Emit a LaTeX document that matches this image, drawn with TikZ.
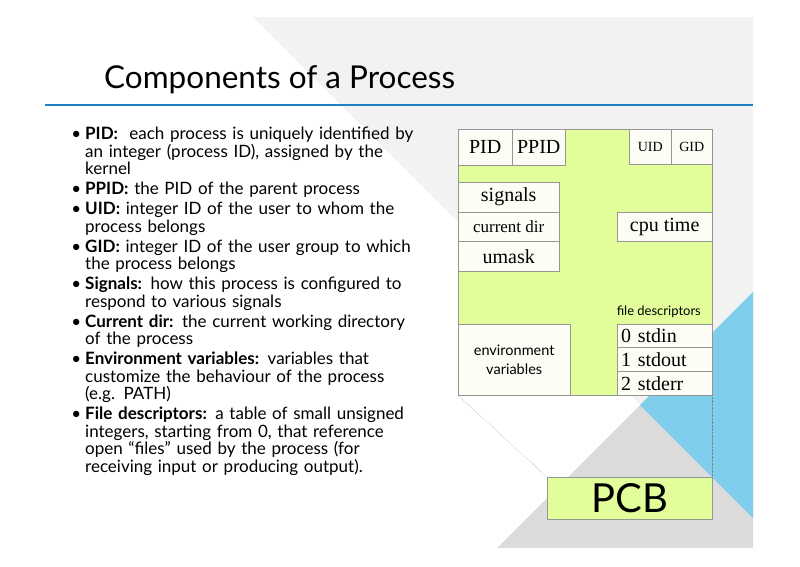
\documentclass[tikz,border=0pt]{standalone}
\usepackage{fontspec}
\usepackage{enumitem}
\setmainfont{Liberation Serif}
\setsansfont{Lato}
\usetikzlibrary{positioning}
\definecolor{pcbgreen}{RGB}{225,254,155}
\definecolor{boxcream}{RGB}{253,253,245}
\definecolor{rulegray}{RGB}{150,150,150}
\definecolor{titleblue}{RGB}{30,128,196}
\definecolor{skyblue}{RGB}{126,205,234}
\definecolor{palegray}{RGB}{242,242,242}
\definecolor{midgray}{RGB}{220,220,220}
\tikzset{
  field/.style={draw=rulegray, fill=boxcream, inner sep=0pt, anchor=north west},
  big/.style={font=\fontsize{20}{20}\selectfont},
}
\begin{document}
\begin{tikzpicture}[x=1pt,y=-1pt]
    \useasboundingbox (0,0) rectangle (800,566);
    % background shapes
    \fill[palegray] (253,17) -- (753,17) -- (753,517) -- cycle;
    \fill[midgray] (497,548) -- (753,292) -- (753,548) -- cycle;
    \fill[skyblue] (640,405) -- (753,292) -- (753,518) -- cycle;
    \draw[titleblue, line width=2.5pt] (45,105) -- (753,105);

    \node[anchor=west, inner sep=0pt, font=\sffamily\fontsize{31.5}{33}\selectfont] (title) at (104,80) {Components of a Process};

    \node[anchor=north west, text width=350pt, inner sep=0pt, font=\sffamily\fontsize{17}{17.5}\selectfont] (list) at (73,122) {%
        \begin{itemize}[leftmargin=12pt, labelsep=4pt, itemsep=2.5pt, topsep=0pt, parsep=0pt, label=\textbullet]
            \item \textbf{PID:}\ \ each process is uniquely identified by\newline an integer (process ID), assigned by the\newline kernel
            \item \textbf{PPID:} the PID of the parent process
            \item \textbf{UID:} integer ID of the user to whom the\newline process belongs
            \item \textbf{GID:} integer ID of the user group to which\newline the process belongs
            \item \textbf{Signals:} how this process is configured to\newline respond to various signals
            \item \textbf{Current dir:} the current working directory\newline of the process
            \item \textbf{Environment variables:} variables that\newline customize the behaviour of the process\newline (e.g. PATH)
            \item \textbf{File descriptors:} a table of small unsigned\newline integers, starting from 0, that reference\newline open “files” used by the process (for\newline receiving input or producing output).
        \end{itemize}};

    % process control block
    \node[draw=rulegray, fill=pcbgreen, minimum width=254pt, minimum height=266pt, inner sep=0pt, anchor=north west] (pcb) at (458,129) {};
    \node[field, big, minimum width=54pt, minimum height=36pt] (pid) at (458,129) {PID};
    \node[field, big, minimum width=53pt, minimum height=36pt] (ppid) at (512,129) {PPID};
    \node[field, minimum width=42pt, minimum height=35pt, font=\fontsize{14}{14}\selectfont] (uid) at (629,129) {UID};
    \node[field, minimum width=41pt, minimum height=35pt, font=\fontsize{14}{14}\selectfont] (gid) at (671,129) {GID};
    \node[field, big, minimum width=101pt, minimum height=30pt] (signals) at (458,182) {signals};
    \node[field, minimum width=101pt, minimum height=29pt, font=\fontsize{17}{17}\selectfont] (cwd) at (458,212) {current dir};
    \node[field, big, minimum width=101pt, minimum height=30pt] (umask) at (458,241) {umask};
    \node[field, big, minimum width=95pt, minimum height=29pt] (cpu) at (617,212) {cpu time};
    \node[anchor=east, inner sep=0pt, font=\sffamily\fontsize{13}{13}\selectfont] (fdlabel) at (701,312) {file descriptors};
    \node[field, minimum width=112pt, minimum height=71pt, align=center, font=\sffamily\fontsize{14.5}{19}\selectfont] (env) at (458,324) {environment\\variables};
    \node[field, big, minimum width=95pt, minimum height=23pt, text width=87pt, align=left] (fd0) at (617,324) {0 stdin};
    \node[field, big, minimum width=95pt, minimum height=24pt, text width=87pt, align=left] (fd1) at (617,347) {1 stdout};
    \node[field, big, minimum width=95pt, minimum height=24pt, text width=87pt, align=left] (fd2) at (617,371) {2 stderr};

    \node[draw=rulegray, fill=pcbgreen, minimum width=165pt, minimum height=42pt, inner sep=0pt, anchor=north west, font=\sffamily\fontsize{40}{40}\selectfont] (block) at (547,477) {PCB};
    \draw[gray, densely dotted] (pcb.south west) -- (block.north west);
    \draw[gray, densely dotted] (pcb.south east) -- (block.north east);
\end{tikzpicture}
\end{document}
